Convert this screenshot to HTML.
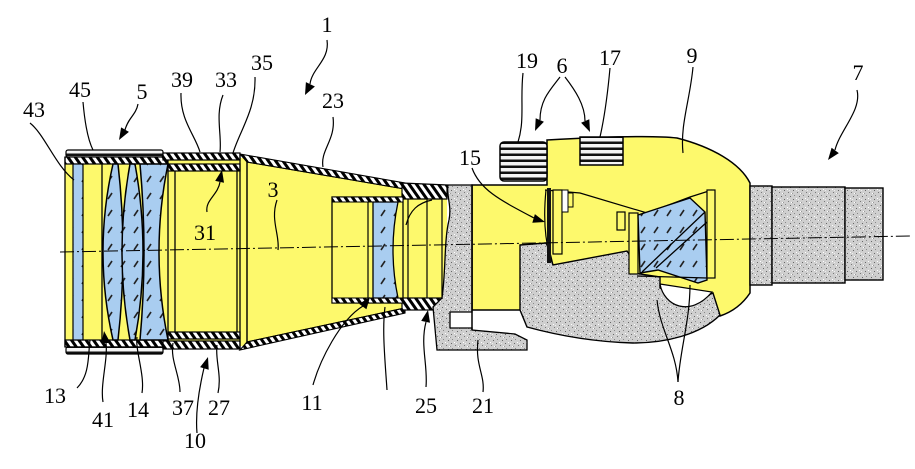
<!DOCTYPE html>
<html><head><meta charset="utf-8"><style>
html,body{margin:0;padding:0;background:#fff;}
svg{display:block;}
text{font-family:"Liberation Serif",serif;font-size:22px;fill:#000;}
</style></head><body>
<svg width="915" height="469" viewBox="0 0 915 469" xmlns="http://www.w3.org/2000/svg">
<defs>
<pattern id="h" width="6" height="6" patternUnits="userSpaceOnUse" patternTransform="rotate(-35)">
<rect width="6" height="6" fill="#fff"/><rect width="3" height="6" fill="#000"/></pattern>
<pattern id="k" width="6" height="6" patternUnits="userSpaceOnUse">
<rect width="6" height="6" fill="#f4f4f4"/><rect y="3.5" width="6" height="2.5" fill="#111"/></pattern>
<pattern id="g" width="9" height="9" patternUnits="userSpaceOnUse">
<rect width="9" height="9" fill="#cfcfcf"/>
<rect x="1" y="1" width="1" height="1" fill="#666"/><rect x="5" y="3" width="1" height="1" fill="#777"/>
<rect x="2" y="6" width="1" height="1" fill="#888"/><rect x="7" y="7" width="1" height="1" fill="#666"/>
<rect x="4" y="0" width="1" height="1" fill="#fff"/><rect x="8" y="4" width="1" height="1" fill="#fff"/>
<rect x="0" y="4" width="1" height="1" fill="#999"/><rect x="6" y="1" width="1" height="1" fill="#eee"/></pattern>
<pattern id="lb" width="13" height="17" patternUnits="userSpaceOnUse">
<rect width="13" height="17" fill="#a9cdf0"/><path d="M4,12 L8,6" stroke="#222" stroke-width="1.6"/></pattern>
</defs>
<rect width="915" height="469" fill="#fff"/>

<!-- objective & middle tube yellow -->
<rect x="65" y="158" width="182" height="188" fill="#fdf96c"/>

<!-- cone -->
<polygon points="247,162 405,189 405,308 247,342" fill="#fdf96c" stroke="#000" stroke-width="1.2"/>
<polygon points="240,154 405,183 405,189 247,162" fill="url(#h)" stroke="#000" stroke-width="1.1"/>
<polygon points="240,350 405,313 405,308 247,342" fill="url(#h)" stroke="#000" stroke-width="1.1"/>

<!-- objective bands -->
<rect x="66" y="150" width="97" height="7" rx="2" fill="url(#k)" stroke="#000" stroke-width="1.2"/>
<rect x="65" y="157" width="103" height="7" fill="url(#h)" stroke="#000" stroke-width="1.2"/>
<rect x="163" y="153" width="77" height="7" fill="url(#h)" stroke="#000" stroke-width="1.2"/>
<rect x="168" y="164" width="72" height="7" fill="url(#h)" stroke="#000" stroke-width="1.2"/>
<rect x="65" y="340" width="103" height="7" fill="url(#h)" stroke="#000" stroke-width="1.2"/>
<rect x="66" y="347" width="97" height="7" rx="2" fill="url(#k)" stroke="#000" stroke-width="1.2"/>
<rect x="168" y="332" width="72" height="7" fill="url(#h)" stroke="#000" stroke-width="1.2"/>
<rect x="163" y="341" width="77" height="8" fill="url(#h)" stroke="#000" stroke-width="1.2"/>

<!-- lenses -->
<rect x="73" y="164" width="10" height="176" fill="url(#lb)" stroke="#000" stroke-width="1.2"/>
<path d="M113,164 Q93,252 113,340 L118,340 Q128,252 118,164 Z" fill="url(#lb)" stroke="#000" stroke-width="1.5"/>
<path d="M130,164 Q114,252 130,340 L135,340 Q151,252 135,164 Z" fill="url(#lb)" stroke="#000" stroke-width="1.5"/>
<path d="M140,164 Q148,252 140,340 L168,340 Q150,252 168,164 Z" fill="url(#lb)" stroke="#000" stroke-width="1.5"/>
<g stroke="#000" stroke-width="1.3">
<line x1="65" y1="157" x2="65" y2="347"/><line x1="102" y1="164" x2="102" y2="340"/>
<line x1="168" y1="164" x2="168" y2="340"/><line x1="175" y1="171" x2="175" y2="332"/>
<line x1="237" y1="171" x2="237" y2="332"/><line x1="247" y1="160" x2="247" y2="344"/>
<line x1="240" y1="154" x2="240" y2="350"/>
</g>

<!-- focusing collar -->
<rect x="402" y="186" width="45" height="124" fill="#fdf96c"/>
<polygon points="402,183 447,185 447,199 402,199" fill="url(#h)" stroke="#000" stroke-width="1.2"/>
<rect x="402" y="298" width="45" height="12" fill="url(#h)" stroke="#000" stroke-width="1.2"/>
<g stroke="#000" stroke-width="1.2" fill="none">
<line x1="427" y1="199" x2="427" y2="298"/><line x1="442" y1="199" x2="442" y2="298"/>
<path d="M406,225 C410,210 418,203 432,200"/>
</g>

<!-- inner tube 11 -->
<rect x="332" y="197" width="71" height="106" fill="#fdf96c" stroke="#000" stroke-width="1.3"/>
<rect x="332" y="197" width="71" height="5" fill="url(#h)" stroke="#000" stroke-width="1"/>
<rect x="332" y="298" width="71" height="5" fill="url(#h)" stroke="#000" stroke-width="1"/>
<path d="M373,202 L398,202 Q388,250 398,298 L373,298 Z" fill="url(#lb)" stroke="#000" stroke-width="1.3"/>
<g stroke="#000" stroke-width="1.2"><line x1="368" y1="202" x2="368" y2="298"/><line x1="408" y1="199" x2="408" y2="298"/></g>

<!-- main yellow body -->
<path d="M472,185 L547,185 L547,140 C600,137 650,135 677,138 C712,147 740,163 750,183 L750,293 C742,305 732,312 720,316 L527,316 L527,310 L472,310 Z" fill="#fdf96c" stroke="#000" stroke-width="1.5"/>

<!-- grey front column + foot -->
<path d="M448,185 L472,185 L472,312 L450,312 L450,328 L472,328 L472,330 L515,334 L527,340 L527,350 L437,350 L433,307 L442,298 C446,270 444,240 449,220 C452,205 446,195 448,185 Z" fill="url(#g)" stroke="#000" stroke-width="1.3"/>
<line x1="472" y1="185" x2="472" y2="330" stroke="#000" stroke-width="1.5"/>

<!-- grey lower body -->
<path d="M520,245 L546,243 C550,250 551,258 553,265 L627,251 C632,258 633,266 634,273 L660,277 L660,288 C675,296 700,300 713,293 L720,315 C700,335 665,343 633,343 C595,342 560,336 527,327 L520,310 Z" fill="url(#g)" stroke="#000" stroke-width="1.4"/>
<path d="M660,284 C664,306 690,318 712,292 Z" fill="#fff" stroke="#000" stroke-width="1.2"/>

<!-- cavity & component 15 -->
<g stroke="#000" stroke-width="1.2" fill="none">
<path d="M545,190 L580,193 L647,213 L690,197 L712,190"/>
<path d="M546,190 C543,220 545,245 553,265"/>
</g>
<rect x="547" y="188" width="4" height="75" fill="#111"/>
<rect x="553" y="190" width="9" height="64" fill="#fdf96c" stroke="#000" stroke-width="1.2"/>
<rect x="562" y="190" width="6" height="22" fill="#fff" stroke="#000" stroke-width="1"/>
<rect x="568" y="193" width="5" height="14" fill="#fdf96c" stroke="#000" stroke-width="1"/>

<!-- prism -->
<rect x="617" y="212" width="8" height="18" fill="#fdf96c" stroke="#000" stroke-width="1.2"/>
<rect x="629" y="213" width="9" height="61" fill="#fdf96c" stroke="#000" stroke-width="1.2"/>
<polygon points="638,215 690,198 705,212 707,280 698,283 658,270 640,273" fill="url(#lb)" stroke="#000" stroke-width="1.4"/>
<g stroke="#000" stroke-width="1.3" fill="none">
<line x1="705" y1="212" x2="642" y2="272"/><line x1="707" y1="222" x2="656" y2="268"/>
<line x1="637" y1="276" x2="707" y2="278"/>
</g>
<rect x="707" y="190" width="8" height="88" fill="#fdf96c" stroke="#000" stroke-width="1.2"/>

<!-- knobs -->
<rect x="500" y="142" width="47" height="39" rx="4" fill="url(#k)" stroke="#000" stroke-width="1.5"/>
<rect x="580" y="137" width="43" height="28" fill="url(#k)" stroke="#000" stroke-width="1.5"/>

<!-- eyepiece -->
<rect x="750" y="186" width="22" height="99" fill="url(#g)" stroke="#000" stroke-width="1.4"/>
<rect x="772" y="187" width="73" height="96" fill="url(#g)" stroke="#000" stroke-width="1.4"/>
<rect x="845" y="188" width="38" height="92" fill="url(#g)" stroke="#000" stroke-width="1.4"/>

<!-- optical axis -->
<line x1="60" y1="252" x2="910" y2="236" stroke="#000" stroke-width="1" stroke-dasharray="14 3 2 3"/>

<!-- leaders -->
<g stroke="#000" stroke-width="1.2" fill="none">
<path d="M327,40 C330,60 312,68 310,84"/>
<path d="M138,104 C136,115 128,118 125,130"/>
<path d="M83,102 C85,125 88,140 93,150"/>
<path d="M30,123 C45,135 55,165 74,180"/>
<path d="M181,93 C180,120 195,135 200,152"/>
<path d="M223,95 C215,115 222,135 220,152"/>
<path d="M255,77 C256,110 240,130 233,153"/>
<path d="M333,117 C336,140 320,150 323,167"/>
<path d="M277,200 C270,220 280,235 278,250"/>
<path d="M207,212 C205,200 218,195 220,182"/>
<path d="M77,388 C90,375 88,355 90,340"/>
<path d="M103,402 C100,385 108,360 106,343"/>
<path d="M142,393 C145,375 135,350 137,337"/>
<path d="M180,392 C180,375 170,360 173,343"/>
<path d="M218,393 C222,375 215,360 217,345"/>
<path d="M197,433 C195,410 200,385 204,368"/>
<path d="M313,385 C320,360 340,320 363,306"/>
<path d="M387,390 C385,360 382,330 385,307"/>
<path d="M426,387 C428,365 420,345 426,322"/>
<path d="M483,392 C485,375 475,365 478,340"/>
<path d="M678,382 C676,350 660,330 657,300"/>
<path d="M678,382 C680,350 690,320 690,285"/>
<path d="M472,168 C480,190 500,200 534,218"/>
<path d="M523,73 C520,100 525,120 518,142"/>
<path d="M560,77 C550,90 540,100 540,120"/>
<path d="M565,77 C575,90 585,105 585,121"/>
<path d="M610,68 C608,90 605,115 600,137"/>
<path d="M693,67 C690,100 680,125 683,153"/>
<path d="M857,90 C862,110 840,130 835,150"/>
</g>
<!-- arrowheads -->
<g fill="#000">
<polygon points="305,95 314.9,86.5 305.9,82.1"/>
<polygon points="119,140 128.9,131.9 121.1,127.4"/>
<polygon points="222,170 224,182.7 215.2,180.9"/>
<polygon points="104,331 110.5,343 101.5,343"/>
<polygon points="208,357 208.7,369.8 200.1,367.1"/>
<polygon points="370,297 366.4,309.3 359.2,303.9"/>
<polygon points="428,310 430,322.7 421.2,320.9"/>
<polygon points="545,222 532.3,222.7 534.9,214.1"/>
<polygon points="535,131 543.9,121.8 535.7,118.2"/>
<polygon points="590,132 589.3,119.2 581.1,122.8"/>
<polygon points="828,160 838.8,153.1 831.6,147.7"/>
</g>

<!-- labels -->
<g text-anchor="middle">
<text x="327" y="32">1</text>
<text x="262" y="70">35</text>
<text x="182" y="87">39</text>
<text x="226" y="87">33</text>
<text x="80" y="97">45</text>
<text x="142" y="99">5</text>
<text x="34" y="117">43</text>
<text x="333" y="108">23</text>
<text x="273" y="197">3</text>
<text x="205" y="240">31</text>
<text x="55" y="403">13</text>
<text x="103" y="427">41</text>
<text x="138" y="417">14</text>
<text x="183" y="415">37</text>
<text x="219" y="415">27</text>
<text x="195" y="448">10</text>
<text x="312" y="410">11</text>
<text x="426" y="413">25</text>
<text x="483" y="413">21</text>
<text x="679" y="405">8</text>
<text x="470" y="165">15</text>
<text x="527" y="68">19</text>
<text x="562" y="73">6</text>
<text x="610" y="65">17</text>
<text x="692" y="63">9</text>
<text x="858" y="80">7</text>
</g>
</svg>
</body></html>
